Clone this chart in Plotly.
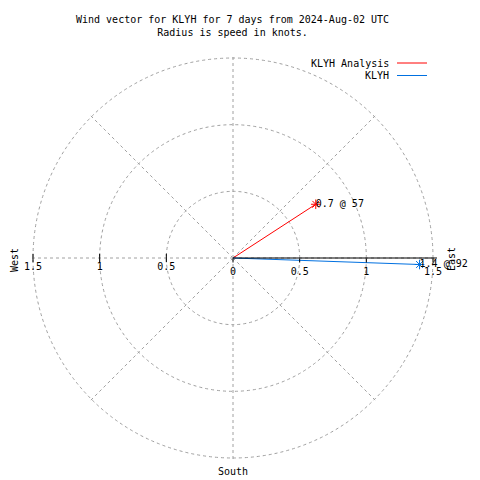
import plotly.graph_objects as go

# ---- data ----
series_names = ["KLYH Analysis", "KLYH"]
speeds = [0.74, 1.40]            # knots
directions = [57, 92]            # degrees (compass)
point_labels = ["0.7 @ 57", "1.4 @ 92"]
series_colors = ["#ff0000", "#0070e0"]

radial_ticks = [0, 0.5, 1, 1.5]
radial_tick_labels = ["0", "0.5", "1", "1.5"]
west_ticks = [0.5, 1, 1.5]
west_tick_labels = ["0.5", "1", "1.5"]

title_lines = ["Wind vector for KLYH for 7 days from 2024-Aug-02 UTC",
               "Radius is speed in knots."]

FONT = "DejaVu Sans Mono"
OFF = 8            # page body margin in the browser
W = H = 480 - OFF

R_MAX = 1.53       # radial range a bit past 1.5 so the 1.5 grid ring is drawn
CX, CY = 233, 258  # centre in page pixels
R_PX = 200 * R_MAX / 1.5  # domain radius so that 1.5 knots = 200 px


def px(x):
    return (x - OFF) / W


def py(y):
    return 1 - (y - OFF) / H


fig = go.Figure()

for name, sp, d, lab, col in zip(series_names, speeds, directions, point_labels, series_colors):
    fig.add_trace(go.Scatterpolar(
        r=[0, sp], theta=[0, d], mode="lines",
        line=dict(color=col, width=1), showlegend=False, hoverinfo="skip"))
    fig.add_trace(go.Scatterpolar(
        r=[sp], theta=[d], mode="markers",
        marker=dict(symbol="asterisk-open", size=8, color=col,
                    line=dict(color=col, width=1)),
        showlegend=False, name=name, cliponaxis=False))
    fig.add_trace(go.Scatterpolar(
        r=[sp], theta=[d], mode="text",
        text=[lab], textposition="middle right",
        textfont=dict(family=FONT, size=10, color="black"),
        showlegend=False, hoverinfo="skip", cliponaxis=False))

# west-side radial tick labels (mirror of the radial axis)
fig.add_trace(go.Scatterpolar(
    r=west_ticks, theta=[270] * len(west_ticks), mode="markers+text",
    marker=dict(symbol="line-ns-open", size=6, color="black",
                line=dict(color="black", width=1)),
    text=west_tick_labels, textposition="bottom center",
    textfont=dict(family=FONT, size=10, color="black"),
    showlegend=False, hoverinfo="skip", cliponaxis=False))

fig.update_layout(
    width=W, height=H,
    margin=dict(l=0, r=0, t=0, b=0),
    paper_bgcolor="white",
    font=dict(family=FONT, size=10, color="black"),
    polar=dict(
        domain=dict(x=[px(CX - R_PX), px(CX + R_PX)],
                    y=[py(CY + R_PX), py(CY - R_PX)]),
        bgcolor="white",
        angularaxis=dict(rotation=90, direction="clockwise",
                         tickmode="linear", dtick=45,
                         showticklabels=False, ticks="",
                         showline=False,
                         gridcolor="#a0a0a0", griddash="dot", gridwidth=1),
        radialaxis=dict(range=[0, R_MAX], tickvals=radial_ticks,
                        ticktext=radial_tick_labels, angle=0, tickangle=0,
                        side="clockwise",
                        showline=True, linecolor="black", linewidth=1,
                        ticks="outside", ticklen=4, tickcolor="black",
                        gridcolor="#a0a0a0", griddash="dot", gridwidth=1,
                        tickfont=dict(family=FONT, size=10, color="black")),
    ),
)

# title
fig.add_annotation(text="<br>".join(title_lines), xref="paper", yref="paper",
                   x=px(232), y=py(12), xanchor="center", yanchor="top",
                   showarrow=False, font=dict(family=FONT, size=10))

# custom legend (text left, line sample right)
legend_y = [63, 75.5]
for name, col, ly in zip(series_names, series_colors, legend_y):
    fig.add_annotation(text=name, xref="paper", yref="paper",
                       x=px(391), y=py(ly), xanchor="right", yanchor="middle",
                       showarrow=False, font=dict(family=FONT, size=10))
    fig.add_shape(type="line", xref="paper", yref="paper",
                  x0=px(397), x1=px(427), y0=py(ly), y1=py(ly),
                  line=dict(color=col, width=1))

# compass labels
fig.add_annotation(text="East", xref="paper", yref="paper", x=px(451), y=py(259),
                   xanchor="center", yanchor="middle",
                   textangle=-90, showarrow=False, font=dict(family=FONT, size=10))
fig.add_annotation(text="West", xref="paper", yref="paper", x=px(14), y=py(260),
                   xanchor="center", yanchor="middle",
                   textangle=-90, showarrow=False, font=dict(family=FONT, size=10))
fig.add_annotation(text="South", xref="paper", yref="paper", x=px(233), y=py(471),
                   xanchor="center", yanchor="middle",
                   showarrow=False, font=dict(family=FONT, size=10))

fig.write_html("out.html")
